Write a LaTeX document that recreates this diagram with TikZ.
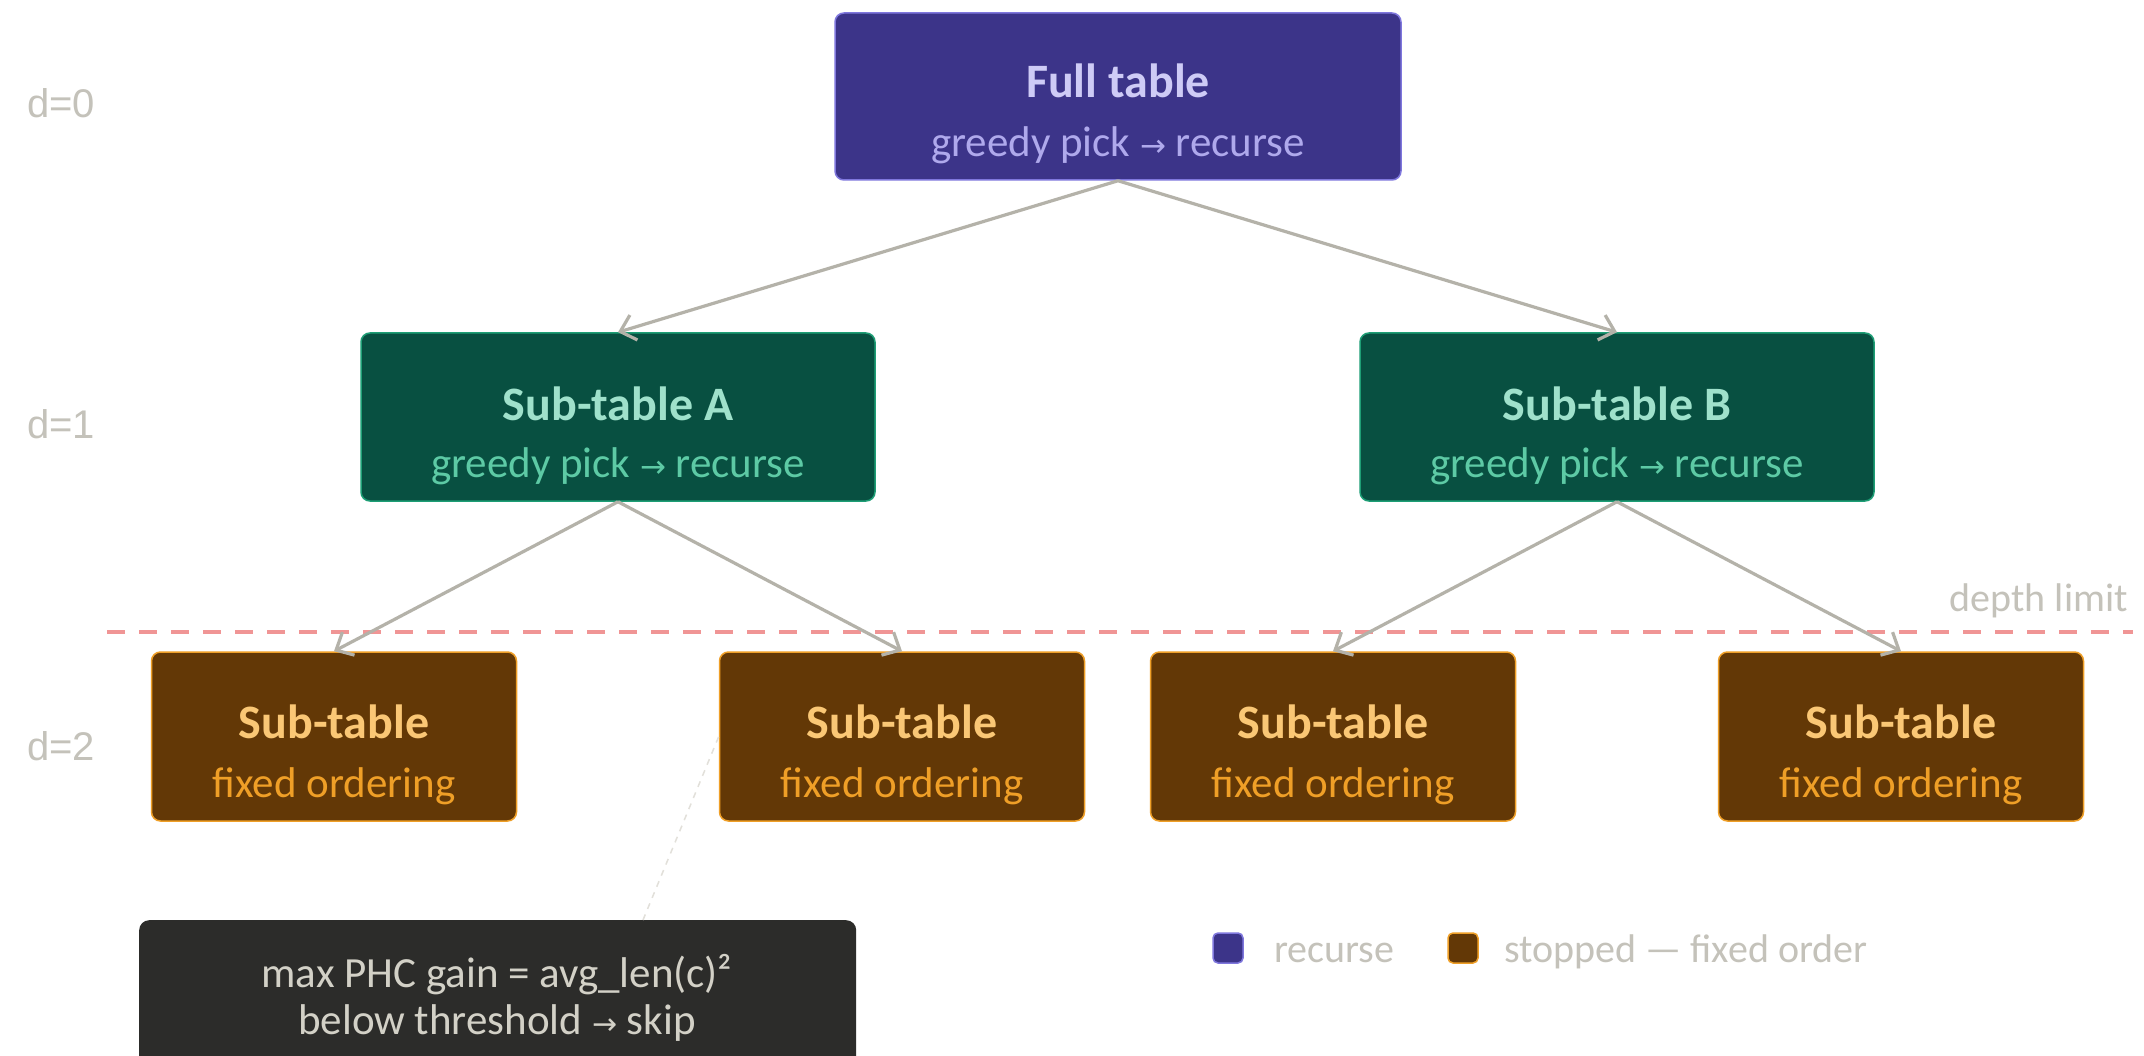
\documentclass[tikz,border=0pt]{standalone}
\usepackage{fontspec}
\setmainfont{Carlito}
\newfontfamily\arrowfont{DejaVu Sans}
\newfontfamily\levelfont{Liberation Sans}
\usetikzlibrary{arrows.meta}

% palette
\definecolor{indfill}{HTML}{3C3489}
\definecolor{indedge}{HTML}{7F77DD}
\definecolor{indtitle}{HTML}{CECBF6}
\definecolor{indsub}{HTML}{AFA9EC}
\definecolor{grnfill}{HTML}{085041}
\definecolor{grnedge}{HTML}{1D9E75}
\definecolor{grntitle}{HTML}{9FE1CB}
\definecolor{grnsub}{HTML}{5DCAA5}
\definecolor{brnfill}{HTML}{633806}
\definecolor{brnedge}{HTML}{EF9F27}
\definecolor{brntitle}{HTML}{FAC775}
\definecolor{brnsub}{HTML}{EF9F27}
\definecolor{notefill}{HTML}{2C2C2A}
\definecolor{notetext}{HTML}{D3D1C7}
\definecolor{wire}{HTML}{B4B2A9}
\definecolor{limitred}{HTML}{F09595}
\definecolor{muted}{HTML}{C4C2BA}
\definecolor{faintwire}{HTML}{E2E0DA}

% small right arrow set in DejaVu Sans
\newcommand\rarr[1]{{\arrowfont\fontsize{#1}{#1}\selectfont →}}

\tikzset{
  card/.style={rectangle, rounded corners=9, line width=1.5, inner sep=0},
  rootcard/.style={card, fill=indfill, draw=indedge, minimum width=566, minimum height=167},
  midcard/.style={card, fill=grnfill, draw=grnedge, minimum width=514, minimum height=168},
  leafcard/.style={card, fill=brnfill, draw=brnedge, minimum width=365, minimum height=169},
  titletext/.style={anchor=base, inner sep=0, font=\bfseries\fontsize{48}{48}\selectfont},
  subtext/.style={anchor=base, inner sep=0, font=\fontsize{43}{43}\selectfont},
  leveltext/.style={anchor=base west, inner sep=0, text=muted, font=\levelfont\fontsize{40}{40}\selectfont},
  greytext/.style={inner sep=0, text=muted, font=\fontsize{40}{40}\selectfont},
  notetxt/.style={anchor=base, inner sep=0, text=notetext, font=\fontsize{43}{43}\selectfont},
  edge/.style={draw=wire, line width=3.2, -{Straight Barb[length=14, width=26]}},
  legsq/.style={rectangle, rounded corners=5, line width=1.5, minimum size=30, inner sep=0},
}

\begin{document}
\begin{tikzpicture}[x=1pt, y=-1pt]
  \useasboundingbox[fill=white] (0,0) rectangle (2144,1056);

  % depth limit
  \coordinate (limL) at (107,632);
  \coordinate (limR) at (2133,632);
  \draw[limitred, line width=4.5, dash pattern=on 18 off 14] (limL) -- (limR);
  \node[greytext, anchor=base east] (limlabel) at (2128,611) {depth limit};

  % level labels
  \node[leveltext] (lv0) at (27,118) {d=0};
  \node[leveltext] (lv1) at (27,438) {d=1};
  \node[leveltext] (lv2) at (27,760) {d=2};

  % root
  \node[rootcard] (full) at (1118,96.5) {};
  \node[titletext, text=indtitle] (fullT) at (1118,98) {Full table};
  \node[subtext, text=indsub] (fullS) at (1118,157) {greedy pick \rarr{31} recurse};

  % depth 1
  \node[midcard] (subA) at (618,417) {};
  \node[titletext, text=grntitle] (subAT) at (618,420) {Sub-table A};
  \node[subtext, text=grnsub] (subAS) at (618,477) {greedy pick \rarr{31} recurse};

  \node[midcard] (subB) at (1617,417) {};
  \node[titletext, text=grntitle] (subBT) at (1617,420) {Sub-table B};
  \node[subtext, text=grnsub] (subBS) at (1617,477) {greedy pick \rarr{31} recurse};

  % depth 2
  \foreach \nm/\cx in {leafA/334, leafB/902, leafC/1333, leafD/1901}{
    \node[leafcard] (\nm) at (\cx,736.5) {};
    \node[titletext, text=brntitle] (\nm T) at (\cx,738) {Sub-table};
    \node[subtext, text=brnsub] (\nm S) at (\cx,797) {fixed ordering};
  }

  % tree edges
  \draw[edge] (full.south) -- (subA.north);
  \draw[edge] (full.south) -- (subB.north);
  \draw[edge] (subA.south) -- (leafA.north);
  \draw[edge] (subA.south) -- (leafB.north);
  \draw[edge] (subB.south) -- (leafC.north);
  \draw[edge] (subB.south) -- (leafD.north);

  % note box
  \node[rectangle, rounded corners=10, fill=notefill, minimum width=717, minimum height=170,
        inner sep=0, anchor=north west] (note) at (139,920) {};
  \coordinate (notetip) at (643,920);
  \draw[faintwire, line width=1.5, dash pattern=on 6 off 6] (notetip) -- (leafB.west);
  \node[notetxt] (noteA) at (497,987) {max PHC gain = avg\_len(c)²};
  \node[notetxt] (noteB) at (497,1034) {below threshold \rarr{30} skip};

  % legend
  \node[legsq, fill=indfill, draw=indedge] (legR) at (1228,948) {};
  \node[greytext, anchor=base west] (legRT) at (1274,962) {recurse};
  \node[legsq, fill=brnfill, draw=brnedge] (legS) at (1463,948) {};
  \node[greytext, anchor=base west] (legST) at (1504,962) {stopped — fixed order};
\end{tikzpicture}
\end{document}
